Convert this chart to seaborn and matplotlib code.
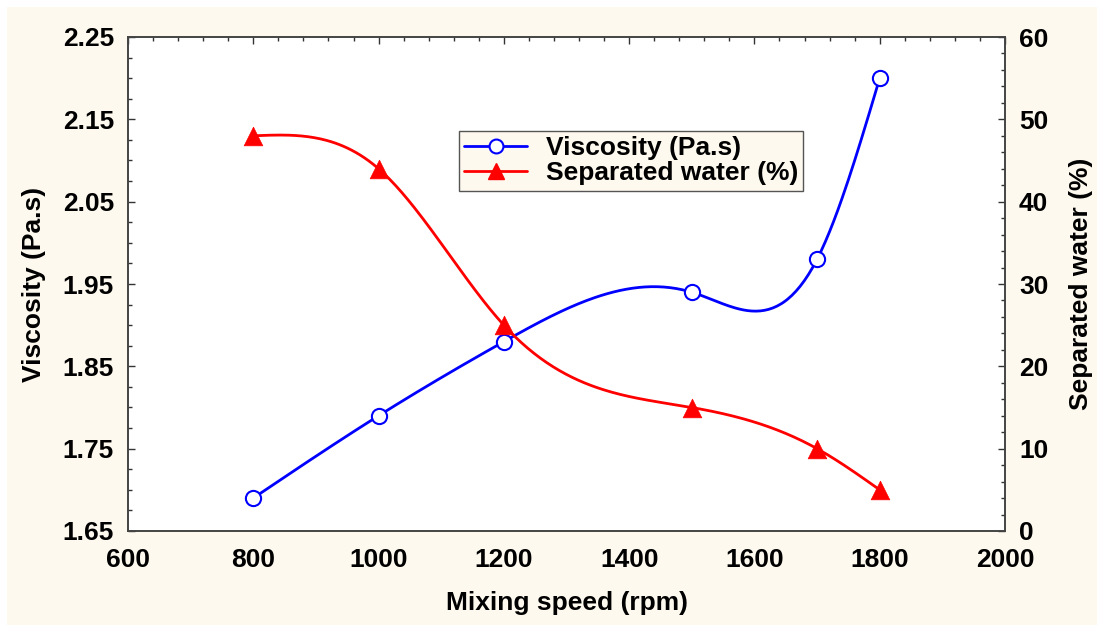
import numpy as np
import pandas as pd
import matplotlib
matplotlib.use("Agg")
import matplotlib.pyplot as plt
import seaborn as sns
from matplotlib.lines import Line2D
from matplotlib.patches import Rectangle
from matplotlib.ticker import MultipleLocator

# ---- data ----
speed = [800, 1000, 1200, 1500, 1700, 1800]
viscosity = [1.69, 1.79, 1.88, 1.94, 1.98, 2.20]
water = [48, 44, 25, 15, 10, 5]
x_ticks = [600, 800, 1000, 1200, 1400, 1600, 1800, 2000]
y1_ticks = [1.65, 1.75, 1.85, 1.95, 2.05, 2.15, 2.25]
y2_ticks = [0, 10, 20, 30, 40, 50, 60]

sns.set_theme(style="white")
plt.rcParams['font.family'] = ['Liberation Sans', 'DejaVu Sans']
plt.rcParams['font.weight'] = 'bold'
plt.rcParams['text.color'] = 'black'
plt.rcParams['axes.labelcolor'] = 'black'


def natural_spline(x, y, n=300):
    x = np.asarray(x, float); y = np.asarray(y, float)
    k = len(x); h = np.diff(x)
    A = np.zeros((k, k)); b = np.zeros(k)
    A[0, 0] = A[-1, -1] = 1
    for i in range(1, k - 1):
        A[i, i - 1] = h[i - 1]; A[i, i] = 2 * (h[i - 1] + h[i]); A[i, i + 1] = h[i]
        b[i] = 6 * ((y[i + 1] - y[i]) / h[i] - (y[i] - y[i - 1]) / h[i - 1])
    M = np.linalg.solve(A, b)
    xs = np.linspace(x[0], x[-1], n)
    idx = np.clip(np.searchsorted(x, xs) - 1, 0, k - 2)
    x0 = x[idx]; x1 = x[idx + 1]; hh = x1 - x0
    ys = (M[idx] * (x1 - xs) ** 3 / (6 * hh) + M[idx + 1] * (xs - x0) ** 3 / (6 * hh)
          + (y[idx] / hh - M[idx] * hh / 6) * (x1 - xs)
          + (y[idx + 1] / hh - M[idx + 1] * hh / 6) * (xs - x0))
    return xs, ys


fig = plt.figure(figsize=(10.97, 6.25), dpi=100)
fig.patch.set_facecolor('#FDF9EE')
fig.patches.append(Rectangle((0, 1 - 7 / 625), 1, 7 / 625, transform=fig.transFigure,
                             facecolor='white', edgecolor='none', zorder=-10))
fig.patches.append(Rectangle((0, 0), 7 / 1097, 1, transform=fig.transFigure,
                             facecolor='white', edgecolor='none', zorder=-10))
ax = fig.add_axes([128 / 1097, 1 - 531 / 625, (1005 - 128) / 1097, (531 - 37) / 625])
ax.set_facecolor('white')
ax2 = ax.twinx()

BLUE = '#0000FF'
RED = '#FF0000'

xs, ys = natural_spline(speed, viscosity)
sns.lineplot(x=xs, y=ys, ax=ax, color=BLUE, lw=2, sort=False)
sns.scatterplot(x=speed, y=viscosity, ax=ax, marker='o', s=120, facecolor='white',
                edgecolor=BLUE, linewidth=1.5, zorder=5)

xs2, ys2 = natural_spline(speed, water)
sns.lineplot(x=xs2, y=ys2, ax=ax2, color=RED, lw=2, sort=False)
sns.scatterplot(x=speed, y=water, ax=ax2, marker='^', s=180, color=RED,
                edgecolor=RED, linewidth=0.5, zorder=5)

ax.set_xlim(600, 2000)
ax.set_ylim(1.65, 2.25)
ax2.set_ylim(0, 60)
ax.set_xticks(x_ticks)
ax.set_yticks(y1_ticks)
ax2.set_yticks(y2_ticks)
ax.xaxis.set_minor_locator(MultipleLocator(40))
ax.yaxis.set_minor_locator(MultipleLocator(0.025))
ax2.yaxis.set_minor_locator(MultipleLocator(2))
ax.set_xticklabels([str(v) for v in x_ticks])
ax.set_yticklabels([f"{v:.2f}" for v in y1_ticks])
ax2.set_yticklabels([str(v) for v in y2_ticks])

fs = 19
for a in (ax, ax2):
    a.tick_params(which='both', direction='in', colors='#333333', labelcolor='black', labelsize=fs)
    a.tick_params(which='major', length=5, width=1)
    a.tick_params(which='minor', length=3, width=1)
    for s in a.spines.values():
        s.set_color('#444444'); s.set_linewidth(1.2)
ax.tick_params(which='both', top=True, right=False)
ax.tick_params(axis='x', pad=12)
ax.tick_params(axis='y', pad=10)
ax2.tick_params(axis='y', pad=10)
ax.set_xlabel('Mixing speed (rpm)', fontsize=19, fontweight='bold', labelpad=14)
ax.set_ylabel('Viscosity (Pa.s)', fontsize=19, fontweight='bold', labelpad=12)
ax2.set_ylabel('Separated water (%)', fontsize=19, fontweight='bold', labelpad=15)
for t in ax.get_xticklabels() + ax.get_yticklabels() + ax2.get_yticklabels():
    t.set_fontweight('bold')

handles = [Line2D([], [], color=BLUE, lw=2, marker='o', markersize=10, markerfacecolor='white',
                  markeredgecolor=BLUE, markeredgewidth=1.5),
           Line2D([], [], color=RED, lw=2, marker='^', markersize=12, markerfacecolor=RED,
                  markeredgecolor=RED)]
leg = ax2.legend(handles, ['Viscosity (Pa.s)', 'Separated water (%)'], loc='upper left',
                 bbox_to_anchor=(0.377, 0.81), frameon=True, fancybox=False,
                 prop={'size': 19, 'weight': 'bold'}, handlelength=2.4, borderpad=0.2,
                 labelspacing=0.05, handletextpad=0.7, borderaxespad=0)
leg.get_frame().set_facecolor('#FDF9EE')
leg.get_frame().set_edgecolor('#555555')
leg.get_frame().set_linewidth(1.0)
leg.get_frame().set_alpha(1)

fig.savefig('out.png', dpi=100, facecolor=fig.get_facecolor())
